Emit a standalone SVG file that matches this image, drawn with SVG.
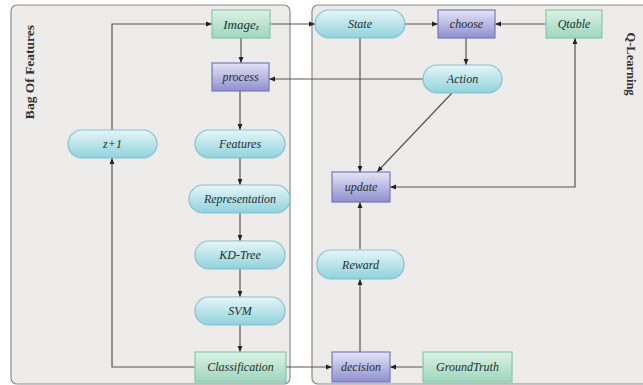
<svg xmlns="http://www.w3.org/2000/svg" width="643" height="385" viewBox="0 0 643 385">
<defs>
<linearGradient id="gGreen" x1="0" y1="0" x2="0" y2="1"><stop offset="0" stop-color="#dcf2e6"/><stop offset="1" stop-color="#9ed6bc"/></linearGradient>
<linearGradient id="gPurple" x1="0" y1="0" x2="0" y2="1"><stop offset="0" stop-color="#e4e4f6"/><stop offset="1" stop-color="#8f8fd0"/></linearGradient>
<linearGradient id="gCyan" x1="0" y1="0" x2="0" y2="1"><stop offset="0" stop-color="#e6f6f8"/><stop offset="1" stop-color="#90d2dc"/></linearGradient>
<marker id="arr" viewBox="0 0 10 10" refX="10" refY="5" markerWidth="5" markerHeight="5" orient="auto-start-reverse"><path d="M0,1 L10,5 L0,9 z" fill="#222"/></marker>
<style>
.panel{fill:#eeecea;stroke:#8a8a8a;stroke-width:1.2}
.green{fill:url(#gGreen);stroke:#86c8a8;stroke-width:1.2}
.purple{fill:url(#gPurple);stroke:#7878b8;stroke-width:1.2}
.cyan{fill:url(#gCyan);stroke:#86c0cc;stroke-width:1.2}
.lbl{font-family:"Liberation Serif",serif;font-style:italic;font-size:12px;fill:#22302f;text-anchor:middle;dominant-baseline:central}
.title{font-family:"Liberation Serif",serif;font-weight:bold;font-size:13.5px;fill:#333;text-anchor:middle;dominant-baseline:central}
.con{fill:none;stroke:#555;stroke-width:1.2}
</style>
</defs>
<rect width="643" height="385" fill="#ffffff"/>
<g id="panels">
<rect class="panel" x="11" y="5" width="279" height="379" rx="6"/>
<rect class="panel" x="312" y="5" width="340" height="379" rx="6"/>
<text class="title" transform="translate(29,72) rotate(-90)">Bag Of Features</text>
<text class="title" transform="translate(631,64) rotate(90)" style="font-size:12.5px">Q-Learning</text>
</g>
<g id="connectors">
<path class="con" d="M241,38 V63" marker-end="url(#arr)"/>
<path class="con" d="M270,24 H315" marker-end="url(#arr)"/>
<path class="con" d="M112,130 V24 H212" marker-end="url(#arr)"/>
<path class="con" d="M195,367 H112 V158" marker-end="url(#arr)"/>
<path class="con" d="M240,91 V130" marker-end="url(#arr)"/>
<path class="con" d="M240,158 V185" marker-end="url(#arr)"/>
<path class="con" d="M240,213 V241" marker-end="url(#arr)"/>
<path class="con" d="M240,269 V297" marker-end="url(#arr)"/>
<path class="con" d="M240,325 V352" marker-end="url(#arr)"/>
<path class="con" d="M423,79 H269" marker-end="url(#arr)"/>
<path class="con" d="M405,24 H438" marker-end="url(#arr)"/>
<path class="con" d="M546,24 H495" marker-end="url(#arr)"/>
<path class="con" d="M466,38 V65" marker-end="url(#arr)"/>
<path class="con" d="M360,38 V172" marker-end="url(#arr)"/>
<path class="con" d="M452,93 L377,172" marker-end="url(#arr)"/>
<path class="con" d="M390,187 H575 V38" marker-start="url(#arr)" marker-end="url(#arr)"/>
<path class="con" d="M360,249 V202" marker-end="url(#arr)"/>
<path class="con" d="M360,352 V279" marker-end="url(#arr)"/>
<path class="con" d="M286,367 H332" marker-end="url(#arr)"/>
<path class="con" d="M423,367 H390" marker-end="url(#arr)"/>
</g>
<g id="image"><rect class="green" x="212" y="10" width="58" height="28"/><text class="lbl" x="241" y="24" style="font-size:13px">Image<tspan font-size="8" dy="3">z</tspan></text></g>
<g id="process"><rect class="purple" x="212" y="63" width="57" height="28"/><text class="lbl" x="240.5" y="77">process</text></g>
<g id="features"><rect class="cyan" x="195" y="130" width="90" height="28" rx="14"/><text class="lbl" x="240" y="144">Features</text></g>
<g id="representation"><rect class="cyan" x="189" y="185" width="101" height="28" rx="14"/><text class="lbl" x="240" y="199">Representation</text></g>
<g id="kdtree"><rect class="cyan" x="195" y="241" width="90" height="28" rx="14"/><text class="lbl" x="240" y="255">KD-Tree</text></g>
<g id="svm"><rect class="cyan" x="195" y="297" width="90" height="28" rx="14"/><text class="lbl" x="240" y="311">SVM</text></g>
<g id="classification"><rect class="green" x="195" y="352" width="91" height="30"/><text class="lbl" x="240.5" y="367">Classification</text></g>
<g id="zplus1"><rect class="cyan" x="68" y="130" width="89" height="28" rx="14"/><text class="lbl" x="112.5" y="144">z+1</text></g>
<g id="state"><rect class="cyan" x="315" y="10" width="90" height="28" rx="14"/><text class="lbl" x="360" y="24">State</text></g>
<g id="choose"><rect class="purple" x="438" y="10" width="57" height="28"/><text class="lbl" x="466.5" y="24">choose</text></g>
<g id="qtable"><rect class="green" x="546" y="10" width="56" height="28"/><text class="lbl" x="574" y="24">Qtable</text></g>
<g id="action"><rect class="cyan" x="423" y="65" width="79" height="28" rx="14"/><text class="lbl" x="462.5" y="79">Action</text></g>
<g id="update"><rect class="purple" x="332" y="172" width="58" height="30"/><text class="lbl" x="361" y="187">update</text></g>
<g id="reward"><rect class="cyan" x="317" y="250" width="87" height="29" rx="14"/><text class="lbl" x="360.5" y="264.5">Reward</text></g>
<g id="decision"><rect class="purple" x="332" y="352" width="58" height="30"/><text class="lbl" x="361" y="367">decision</text></g>
<g id="groundtruth"><rect class="green" x="423" y="352" width="89" height="30"/><text class="lbl" x="467.5" y="367">GroundTruth</text></g>
</svg>
